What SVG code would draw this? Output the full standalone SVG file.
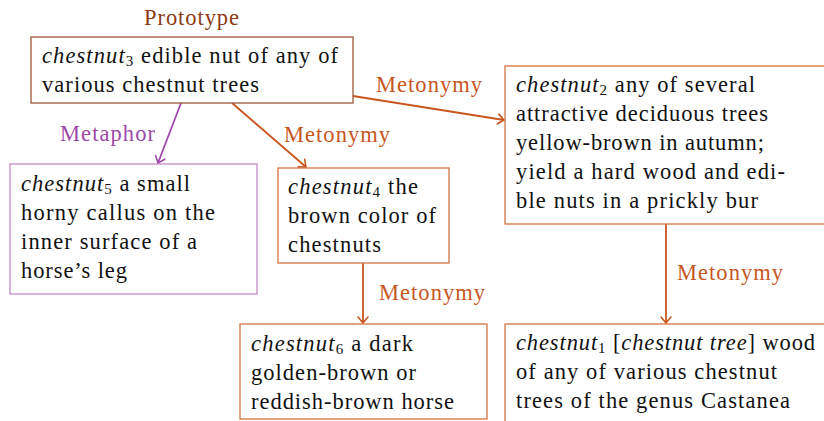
<svg xmlns="http://www.w3.org/2000/svg" width="824" height="421" viewBox="0 0 824 421">
<defs>
<style>
text{font-family:"Liberation Serif","Times New Roman",serif}
.t{font-size:22.5px;fill:#111}
.i{font-style:italic}
.s{font-size:15px}
.lbl{font-size:22.5px}
.or{fill:#c8561e}
.pu{fill:#9c4aa8}
.pr{fill:#8b3a12}
.bo{fill:#fff;stroke:#d4743e;stroke-width:1.3}
.bp{fill:#fff;stroke:#c68ac9;stroke-width:1.3}
.bb{fill:#fff;stroke:#9a5a3c;stroke-width:1.3}
.ao{stroke:#c8561e;stroke-width:1.8;fill:none}
.ap{stroke:#9c4aa8;stroke-width:1.8;fill:none}
</style>
<marker id="mo" markerUnits="userSpaceOnUse" markerWidth="14" markerHeight="14" refX="0" refY="0" viewBox="-8 -7 10 14" orient="auto" overflow="visible">
<path d="M-6,-5 Q-1.5,-1.2 0,0 Q-1.5,1.2 -6,5" fill="none" stroke="#c8561e" stroke-width="1.6" stroke-linecap="round"/>
</marker>
<marker id="mp" markerUnits="userSpaceOnUse" markerWidth="14" markerHeight="14" refX="0" refY="0" viewBox="-8 -7 10 14" orient="auto" overflow="visible">
<path d="M-6,-5 Q-1.5,-1.2 0,0 Q-1.5,1.2 -6,5" fill="none" stroke="#9c4aa8" stroke-width="1.6" stroke-linecap="round"/>
</marker>
</defs>
<rect width="824" height="421" fill="#fff"/>
<g id="connectors">
<line class="ap" x1="181" y1="103" x2="158" y2="163" marker-end="url(#mp)"/>
<line class="ao" x1="232" y1="103" x2="306" y2="167" marker-end="url(#mo)"/>
<line class="ao" x1="353" y1="96" x2="504" y2="120" marker-end="url(#mo)"/>
<line class="ao" x1="363" y1="263" x2="363" y2="323" marker-end="url(#mo)"/>
<line class="ao" x1="666" y1="224" x2="666" y2="323" marker-end="url(#mo)"/>
<text class="lbl pu" x="60" y="141" textLength="95">Metaphor</text>
<text class="lbl or" x="284" y="142" textLength="106">Metonymy</text>
<text class="lbl or" x="376" y="92" textLength="106">Metonymy</text>
<text class="lbl or" x="379" y="300" textLength="106">Metonymy</text>
<text class="lbl or" x="677" y="280" textLength="106">Metonymy</text>
</g>
<g id="chestnut3">
<text class="lbl pr" x="144" y="25" textLength="95">Prototype</text>
<rect class="bb" x="31" y="37" width="322" height="66"/>
<text class="t" x="42" y="63" textLength="296"><tspan class="i">chestnut</tspan><tspan class="s" dy="3">3</tspan><tspan dy="-3"> edible nut of any of</tspan></text>
<text class="t" x="42" y="92" textLength="217">various chestnut trees</text>
</g>
<g id="chestnut2">
<rect class="bo" x="505" y="66" width="330" height="158"/>
<text class="t" x="516" y="92" textLength="239"><tspan class="i">chestnut</tspan><tspan class="s" dy="3">2</tspan><tspan dy="-3"> any of several</tspan></text>
<text class="t" x="516" y="121" textLength="252">attractive deciduous trees</text>
<text class="t" x="516" y="150" textLength="248">yellow-brown in autumn;</text>
<text class="t" x="516" y="179" textLength="269">yield a hard wood and edi-</text>
<text class="t" x="516" y="208" textLength="242">ble nuts in a prickly bur</text>
</g>
<g id="chestnut5">
<rect class="bp" x="10" y="164" width="247" height="130"/>
<text class="t" x="21" y="191" textLength="169"><tspan class="i">chestnut</tspan><tspan class="s" dy="3">5</tspan><tspan dy="-3"> a small</tspan></text>
<text class="t" x="21" y="220" textLength="194">horny callus on the</text>
<text class="t" x="21" y="249" textLength="176">inner surface of a</text>
<text class="t" x="21" y="278" textLength="106">horse’s leg</text>
</g>
<g id="chestnut4">
<rect class="bo" x="278" y="168" width="171" height="95"/>
<text class="t" x="288" y="194" textLength="130"><tspan class="i">chestnut</tspan><tspan class="s" dy="3">4</tspan><tspan dy="-3"> the</tspan></text>
<text class="t" x="288" y="223" textLength="148">brown color of</text>
<text class="t" x="288" y="252" textLength="93">chestnuts</text>
</g>
<g id="chestnut6">
<rect class="bo" x="240" y="324" width="247" height="95"/>
<text class="t" x="251" y="351" textLength="162"><tspan class="i">chestnut</tspan><tspan class="s" dy="3">6</tspan><tspan dy="-3"> a dark</tspan></text>
<text class="t" x="251" y="380" textLength="165">golden-brown or</text>
<text class="t" x="251" y="409" textLength="203">reddish-brown horse</text>
</g>
<g id="chestnut1">
<rect class="bo" x="505" y="324" width="330" height="110"/>
<text class="t" x="516" y="350" textLength="299"><tspan class="i">chestnut</tspan><tspan class="s" dy="3">1</tspan><tspan dy="-3"> [</tspan><tspan class="i">chestnut tree</tspan><tspan>] wood</tspan></text>
<text class="t" x="516" y="379" textLength="261">of any of various chestnut</text>
<text class="t" x="516" y="408" textLength="274">trees of the genus Castanea</text>
</g>
</svg>
